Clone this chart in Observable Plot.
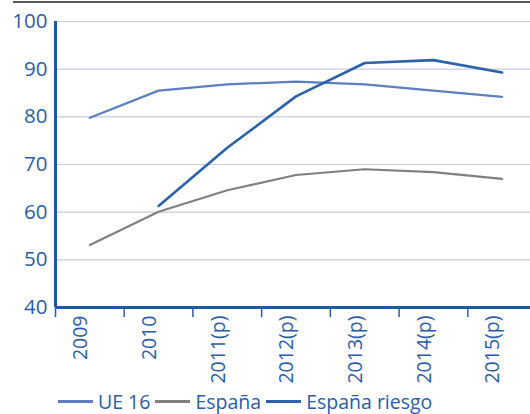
<!DOCTYPE html>
<html>
<head>
<meta charset="utf-8">
<script src="https://cdn.jsdelivr.net/npm/d3@7"></script>
<script src="https://cdn.jsdelivr.net/npm/@observablehq/plot@0.6"></script>
<style>
  body { margin: 0; background: #fff; font-family: "Open Sans", sans-serif; }
  #wrap { position: relative; width: 530px; height: 414px; overflow: hidden; }
  #topline { position: absolute; left: 13px; right: 0; top: 1px; border-top: 2px solid #5a5a5a; }
  #chart { position: absolute; left: 0; top: 0; }
  #legend { position: absolute; left: 58px; top: 388px; display: flex; align-items: center; font-size: 19.5px; font-weight: 500; color: #2b5da6; white-space: nowrap; }
  #legend .sw { display: inline-block; width: 35px; height: 0; border-top-style: solid; margin-right: 5px; }
  #legend .item { display: flex; align-items: center; margin-right: 5px; }
</style>
</head>
<body>
<div id="wrap">
  <div id="topline"></div>
  <div id="chart"></div>
  <div id="legend"></div>
</div>
<script>
const categories = ["2009", "2010", "2011(p)", "2012(p)", "2013(p)", "2014(p)", "2015(p)"];
const seriesNames = ["UE 16", "España", "España riesgo"];
const ue16 = [79.8, 85.5, 86.8, 87.4, 86.8, 85.5, 84.2];
const espana = [53.1, 60.1, 64.6, 67.8, 69.0, 68.4, 67.0];
const espanaRiesgo = [null, 61.3, 73.5, 84.3, 91.3, 91.9, 89.3];
const yTicks = [40, 50, 60, 70, 80, 90, 100];
const colors = ["#5c7fc0", "#808080", "#2b62a9"];
const widths = [2.2, 2.2, 2.6];

const allValues = [ue16, espana, espanaRiesgo];
const data = [];
allValues.forEach((vals, s) => {
  vals.forEach((v, i) => {
    if (v != null) data.push({series: seriesNames[s], i, value: v});
  });
});

const blue = "#2b5da6";
const boundaries = d3.range(categories.length).map(i => i - 0.5);

const plot = Plot.plot({
  width: 530,
  height: 414,
  marginLeft: 55,
  marginRight: 0,
  marginTop: 21,
  marginBottom: 107,
  style: {fontFamily: "Open Sans, sans-serif", fontSize: "20px", fontWeight: 500, color: blue, background: "transparent", overflow: "visible"},
  x: {type: "linear", domain: [-0.5, categories.length - 0.5], range: [55, 536]},
  y: {domain: [40, 100], range: [307, 21]},
  marks: [
    Plot.gridY(yTicks.slice(1), {stroke: "#c3cde3", strokeOpacity: 1, strokeWidth: 1.2}),
    Plot.axisY({ticks: yTicks, tickSize: 0, tickPadding: 8, fontSize: 20.5, fill: blue, label: null}),
    Plot.axisX({ticks: boundaries, tickSize: 10, tickFormat: () => "", stroke: blue, strokeWidth: 1.5, label: null}),
    Plot.axisX({ticks: d3.range(categories.length), tickSize: 0, tickPadding: 8, tickRotate: -90, tickFormat: i => categories[i], fontSize: 19.5, fill: blue, dx: -9, label: null}),
    Plot.ruleX([-0.5], {stroke: "#1d5aa5", strokeWidth: 3}),
    Plot.ruleY([40], {stroke: "#1d5aa5", strokeWidth: 3}),
    ...seriesNames.map((name, s) =>
      Plot.line(data.filter(d => d.series === name), {x: "i", y: "value", stroke: colors[s], strokeWidth: widths[s]})
    )
  ]
});
document.getElementById("chart").appendChild(plot);

const legend = document.getElementById("legend");
seriesNames.forEach((name, s) => {
  const item = document.createElement("span");
  item.className = "item";
  const sw = document.createElement("span");
  sw.className = "sw";
  sw.style.borderTopColor = colors[s];
  sw.style.borderTopWidth = "3px";
  item.appendChild(sw);
  item.appendChild(document.createTextNode(name));
  legend.appendChild(item);
});
</script>
</body>
</html>
